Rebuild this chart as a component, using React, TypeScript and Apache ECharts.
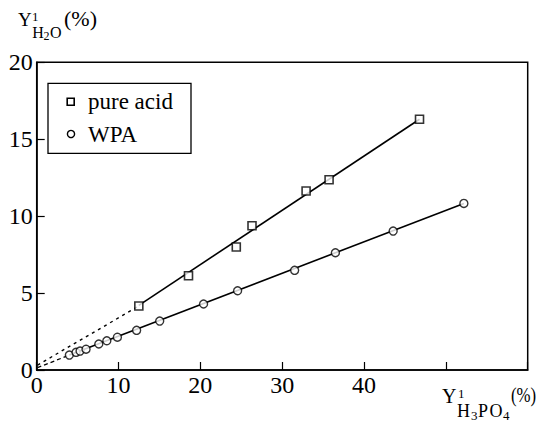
import React, { useEffect, useRef } from "react";
import * as echarts from "echarts";

const xTicks = [0, 10, 20, 30, 40];
const yTicks = [0, 5, 10, 15, 20];

const pureAcid: [number, number][] = [
  [12.48, 4.16],
  [18.55, 6.13],
  [24.39, 7.99],
  [26.31, 9.38],
  [32.92, 11.63],
  [35.73, 12.37],
  [46.78, 16.3],
];

const wpa: [number, number][] = [
  [3.99, 0.97],
  [4.81, 1.15],
  [5.3, 1.23],
  [6.03, 1.35],
  [7.59, 1.69],
  [8.57, 1.9],
  [9.86, 2.13],
  [12.21, 2.58],
  [15.03, 3.18],
  [20.39, 4.29],
  [24.55, 5.15],
  [31.52, 6.48],
  [36.5, 7.62],
  [43.56, 9.03],
  [52.2, 10.83],
];

const pureFit: [number, number][] = [
  [12.48, 4.2],
  [46.78, 16.3],
];
const wpaFit: [number, number][] = [
  [3.99, 0.97],
  [52.2, 10.83],
];
const pureExtrap: [number, number][] = [
  [0.1, 0.32],
  [12.48, 4.16],
];
const wpaExtrap: [number, number][] = [
  [0.1, 0.15],
  [3.99, 0.97],
];

const FONT = "Liberation Serif";

function txt(text: string, x: number, y: number, size: number, scaleX = 1) {
  return {
    type: "text",
    x,
    y,
    scaleX,
    style: {
      text,
      fontFamily: FONT,
      fontSize: size,
      fill: "#000",
      textAlign: "left",
      textVerticalAlign: "middle",
      verticalAlign: "middle",
    },
    z: 100,
  };
}

export default function App() {
  const ref = useRef<HTMLDivElement>(null);
  useEffect(() => {
    if (!ref.current) return;
    const chart = echarts.init(ref.current, undefined, { renderer: "svg" });
    chart.setOption({
      animation: false,
      backgroundColor: "#fff",
      textStyle: { fontFamily: FONT },
      grid: {
        left: 36.7,
        right: 8.3,
        top: 62.3,
        bottom: 54,
        show: true,
        borderColor: "#000",
        borderWidth: 1.5,
        backgroundColor: "transparent",
      },
      xAxis: {
        type: "value",
        min: 0,
        max: 60,
        interval: 10,
        splitLine: { show: false },
        axisLine: { show: true, lineStyle: { color: "#000", width: 1.5 } },
        axisTick: { show: true, inside: true, length: 8, lineStyle: { color: "#000", width: 1.2 } },
        axisLabel: {
          margin: 3,
          fontFamily: FONT,
          fontSize: 24,
          color: "#000",
          formatter: (v: number) => (xTicks.includes(v) ? String(v) : ""),
        },
      },
      yAxis: {
        type: "value",
        min: 0,
        max: 20,
        interval: 5,
        splitLine: { show: false },
        axisLine: { show: true, lineStyle: { color: "#000", width: 1.5 } },
        axisTick: { show: true, inside: true, length: 8, lineStyle: { color: "#000", width: 1.2 } },
        axisLabel: {
          margin: 4,
          fontFamily: FONT,
          fontSize: 24,
          color: "#000",
          formatter: (v: number) => (yTicks.includes(v) ? String(v) : ""),
        },
      },
      series: [
        {
          name: "pure acid fit",
          type: "line",
          data: pureFit,
          symbol: "none",
          lineStyle: { color: "#000", width: 1.6 },
          z: 2,
        },
        {
          name: "WPA fit",
          type: "line",
          data: wpaFit,
          symbol: "none",
          lineStyle: { color: "#000", width: 1.6 },
          z: 2,
        },
        {
          name: "pure acid extrapolation",
          type: "line",
          data: pureExtrap,
          symbol: "none",
          lineStyle: { color: "#000", width: 1.4, type: [3, 4] },
          z: 2,
        },
        {
          name: "WPA extrapolation",
          type: "line",
          data: wpaExtrap,
          symbol: "none",
          lineStyle: { color: "#000", width: 1.3, type: [4, 3] },
          z: 2,
        },
        {
          name: "pure acid",
          type: "scatter",
          data: pureAcid,
          symbol: "rect",
          symbolSize: 8,
          itemStyle: { color: "#fff", borderColor: "#000", borderWidth: 1.6 },
          z: 5,
        },
        {
          name: "WPA",
          type: "scatter",
          data: wpa,
          symbol: "circle",
          symbolSize: 8,
          itemStyle: { color: "#fff", borderColor: "#000", borderWidth: 1.4 },
          z: 5,
        },
      ],
      graphic: [
        {
          type: "rect",
          shape: { x: 48, y: 83.3, width: 143, height: 70 },
          style: { fill: "#fff", stroke: "#000", lineWidth: 1.3 },
          z: 90,
        },
        {
          type: "rect",
          shape: { x: 67.2, y: 98.2, width: 7, height: 7 },
          style: { fill: "#fff", stroke: "#000", lineWidth: 1.6 },
          z: 95,
        },
        {
          type: "circle",
          shape: { cx: 71, cy: 134, r: 3.6 },
          style: { fill: "#fff", stroke: "#000", lineWidth: 1.4 },
          z: 95,
        },
        txt("pure acid", 88, 101.5, 23),
        txt("WPA", 88, 134.9, 23),
        // Y-axis title
        txt("Y", 18, 19.6, 19),
        txt("1", 32, 16.6, 13),
        txt("H", 32.3, 32.6, 16),
        txt("2", 43.5, 36, 12),
        txt("O", 50, 32.6, 16),
        txt("(%)", 64, 18.5, 22),
        // X-axis title
        txt("Y", 442, 396, 20),
        txt("1", 458, 393, 13),
        txt("H", 457, 411, 18),
        txt("3", 471, 415, 13),
        txt("P", 478, 411, 18),
        txt("O", 489.5, 411, 18),
        txt("4", 503, 415, 13),
        txt("(%)", 511, 395, 21, 0.8),
      ],
    });
    return () => chart.dispose();
  }, []);
  return (
    <div
      ref={ref}
      style={{ position: "fixed", left: 0, top: 0, width: 536, height: 424 }}
    />
  );
}
